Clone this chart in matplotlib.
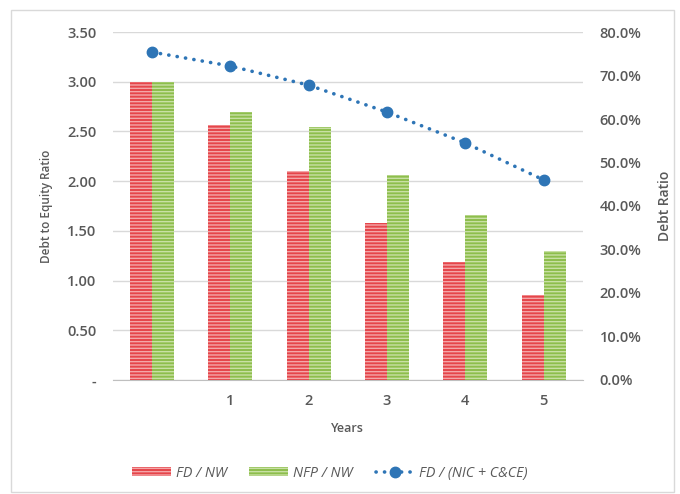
import matplotlib.pyplot as plt
import matplotlib.patches as mpatches
import numpy as np

plt.rcParams['font.family'] = ['Open Sans', 'DejaVu Sans']
plt.rcParams['hatch.linewidth'] = 1.0

# data
years = ['', '1', '2', '3', '4', '5']
fd_nw = [3.00, 2.57, 2.10, 1.58, 1.19, 0.85]
nfp_nw = [3.00, 2.70, 2.54, 2.06, 1.66, 1.30]
fd_nic = [0.754, 0.722, 0.678, 0.616, 0.545, 0.460]

left_ticks = [0, 0.5, 1.0, 1.5, 2.0, 2.5, 3.0, 3.5]
left_labels = ['-', '0.50', '1.00', '1.50', '2.00', '2.50', '3.00', '3.50']
right_ticks = [0, 0.1, 0.2, 0.3, 0.4, 0.5, 0.6, 0.7, 0.8]

txt = '#595959'
red = '#E5454A'
red_h = '#F4A6A8'
green = '#8DBE4C'
green_h = '#C8E0A4'
blue = '#2E75B6'
dots = (0, (0.05, 2.3))

fig = plt.figure(figsize=(6.8, 4.94), dpi=100)
ax = fig.add_axes([0.166, 0.231, 0.691, 0.704])
ax2 = ax.twinx()

x = np.arange(len(years))
w = 0.28
ax.bar(x - w/2, fd_nw, w, color=red, edgecolor=red_h, hatch='-----', linewidth=0, zorder=2)
ax.bar(x + w/2, nfp_nw, w, color=green, edgecolor=green_h, hatch='-----', linewidth=0, zorder=2)

ax2.plot(x, fd_nic, color=blue, linestyle=dots, linewidth=2.6,
         dash_capstyle='round', marker='o', markersize=7.5, zorder=3)

ax.set_xlim(-0.5, len(years) - 0.5)
ax.set_ylim(0, 3.5)
ax2.set_ylim(0, 0.8)

ax.set_yticks(left_ticks)
ax.set_yticklabels(left_labels)
ax2.set_yticks(right_ticks)
ax2.set_yticklabels(['{:.1f}%'.format(v * 100) for v in right_ticks])
ax.set_xticks(x)
ax.set_xticklabels(years)

ax.grid(axis='y', color='#D9D9D9', linewidth=1, zorder=0)
ax.set_axisbelow(True)
for a in (ax, ax2):
    for s in a.spines.values():
        s.set_visible(False)
    a.tick_params(length=0, labelsize=10.5, colors=txt)
ax.spines['bottom'].set_visible(True)
ax.spines['bottom'].set_color('#BFBFBF')
ax.tick_params(axis='y', pad=12)
ax2.tick_params(axis='y', pad=12)
ax.tick_params(axis='x', pad=10)
for lab in ax.get_xticklabels() + ax.get_yticklabels() + ax2.get_yticklabels():
    lab.set_fontweight('semibold')

ax.set_ylabel('Debt to Equity Ratio', fontsize=8.5, color=txt, fontweight='semibold', labelpad=10)
ax2.set_ylabel('Debt Ratio', fontsize=10, color=txt, fontweight='semibold', labelpad=12)
ax.set_xlabel('Years', fontsize=9, color=txt, fontweight='semibold', labelpad=10)

h1 = mpatches.Patch(facecolor=red, edgecolor=red_h, hatch='-----', linewidth=0)
h2 = mpatches.Patch(facecolor=green, edgecolor=green_h, hatch='-----', linewidth=0)
h3 = plt.Line2D([], [], color=blue, linestyle=dots, linewidth=2.6,
                dash_capstyle='round', marker='o', markersize=7.5)
leg = fig.legend([h1, h2, h3], ['FD / NW', 'NFP / NW', 'FD / (NIC + C&CE)'],
                 loc='center', bbox_to_anchor=(0.485, 0.042), ncol=3, frameon=False,
                 fontsize=10.3, handlelength=2.7, handleheight=0.6, columnspacing=1.6,
                 handletextpad=0.35)
for t in leg.get_texts():
    t.set_color(txt)
    t.set_fontstyle('italic')

fig.patches.append(mpatches.Rectangle((0.016, 0.004), 0.975, 0.976, transform=fig.transFigure,
                                      fill=False, edgecolor='#D9D9D9', linewidth=1))

fig.savefig('out.png', dpi=100)
